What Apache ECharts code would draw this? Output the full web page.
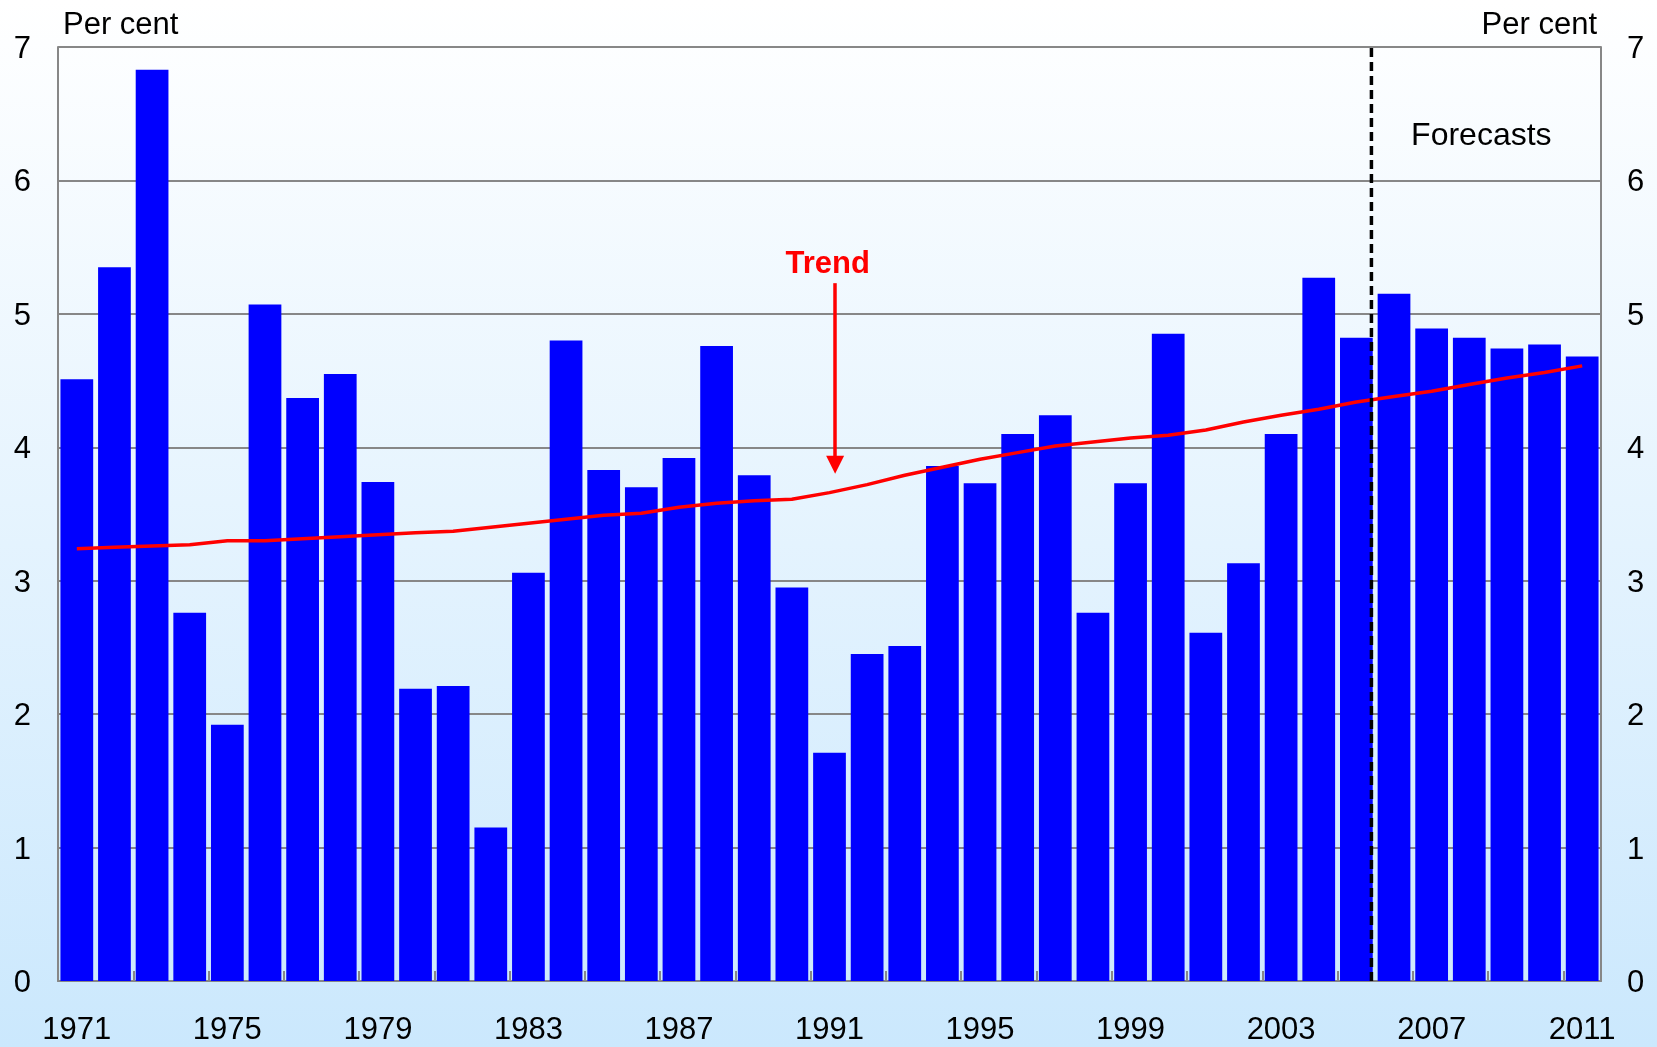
<!DOCTYPE html>
<html>
<head>
<meta charset="utf-8">
<style>
html,body{margin:0;padding:0;width:1657px;height:1047px;overflow:hidden;}
#c{width:1657px;height:1047px;}
</style>
<script src="https://cdn.jsdelivr.net/npm/echarts@6/dist/echarts.min.js"></script>
</head>
<body>
<div id="c"></div>
<script>
const years = ['1971','1972','1973','1974','1975','1976','1977','1978','1979','1980',
  '1981','1982','1983','1984','1985','1986','1987','1988','1989','1990',
  '1991','1992','1993','1994','1995','1996','1997','1998','1999','2000',
  '2001','2002','2003','2004','2005','2006','2007','2008','2009','2010','2011'];
const growth = [4.51,5.35,6.83,2.76,1.92,5.07,4.37,4.55,3.74,2.19,
  2.21,1.15,3.06,4.80,3.83,3.70,3.92,4.76,3.79,2.95,
  1.71,2.45,2.51,3.86,3.73,4.10,4.24,2.76,3.73,4.85,
  2.61,3.13,4.10,5.27,4.82,5.15,4.89,4.82,4.74,4.77,4.68];
const trend = [3.24,3.25,3.26,3.27,3.30,3.30,3.315,3.33,3.345,3.36,
  3.37,3.40,3.43,3.46,3.49,3.505,3.55,3.58,3.60,3.61,
  3.66,3.72,3.79,3.85,3.91,3.96,4.01,4.04,4.07,4.09,
  4.13,4.19,4.24,4.285,4.34,4.38,4.42,4.47,4.52,4.56,4.61];
const firstForecastYear = '2006';
const yMin = 0, yMax = 7, yStep = 1;
const unitLabel = 'Per cent';
const trendLabel = 'Trend';
const forecastLabel = 'Forecasts';

const FONT = "'Liberation Sans', Arial, sans-serif";
const GRAY = '#878787';
const fcIdx = years.indexOf(firstForecastYear);

const chart = echarts.init(document.getElementById('c'), null, {renderer: 'canvas'});
const option = {
  animation: false,
  backgroundColor: new echarts.graphic.LinearGradient(0, 0, 0, 1, [
    {offset: 0, color: '#ffffff'},
    {offset: 1, color: '#cbe8fd'}
  ]),
  grid: {left: 58, right: 56, top: 47, bottom: 66, containLabel: false},
  xAxis: [
    {
      type: 'category', data: years, boundaryGap: true,
      axisLine: {show: true, lineStyle: {color: GRAY, width: 2}},
      axisTick: {show: true, inside: true, length: 10, interval: 1, lineStyle: {color: GRAY, width: 2}},
      axisLabel: {interval: 3, margin: 34, color: '#000', fontSize: 31, fontFamily: FONT},
      splitLine: {show: false}
    },
    {type: 'value', min: 0, max: years.length, show: false}
  ],
  yAxis: [
    {
      type: 'value', min: yMin, max: yMax, interval: yStep, position: 'left',
      name: unitLabel, nameLocation: 'end', nameGap: 6,
      nameTextStyle: {align: 'left', padding: [0, 0, 0, 5], fontSize: 31, color: '#000', fontFamily: FONT},
      axisLine: {show: true, lineStyle: {color: GRAY, width: 2}},
      axisTick: {show: false},
      axisLabel: {margin: 27, color: '#000', fontSize: 31, fontFamily: FONT, verticalAlign: 'top', lineHeight: 5},
      splitLine: {show: true, lineStyle: {color: GRAY, width: 2}}
    },
    {
      type: 'value', min: yMin, max: yMax, interval: yStep, position: 'right',
      name: unitLabel, nameLocation: 'end', nameGap: 6,
      nameTextStyle: {align: 'right', padding: [0, 4, 0, 0], fontSize: 31, color: '#000', fontFamily: FONT},
      axisLine: {show: true, lineStyle: {color: GRAY, width: 2}},
      axisTick: {show: false},
      axisLabel: {margin: 26, color: '#000', fontSize: 31, fontFamily: FONT, verticalAlign: 'top', lineHeight: 5},
      splitLine: {show: false}
    }
  ],
  series: [
    {
      type: 'bar', data: growth, barCategoryGap: '13%',
      itemStyle: {color: '#0000ff'}, z: 2
    },
    {
      type: 'line', data: trend, symbol: 'none',
      lineStyle: {color: '#ff0000', width: 3.5}, itemStyle: {color: '#ff0000'}, z: 3
    },
    {
      type: 'line', xAxisIndex: 1, yAxisIndex: 0,
      data: [[fcIdx - 0.1, yMin], [fcIdx - 0.1, yMax]], symbol: 'none',
      lineStyle: {color: '#000', width: 3.5, type: [9, 5]}, z: 4
    },
    {
      type: 'scatter', xAxisIndex: 1, yAxisIndex: 0, symbolSize: 0,
      itemStyle: {opacity: 1},
      data: [[20.45, 5.373]],
      label: {show: true, position: 'inside', formatter: trendLabel, color: '#ff0000',
        fontSize: 31, fontWeight: 'bold', fontFamily: FONT},
      markLine: {
        silent: true, symbol: ['none', 'triangle'], symbolSize: [18, 18],
        lineStyle: {color: '#ff0000', width: 3.5, type: 'solid', opacity: 1},
        label: {show: false},
        data: [[{coord: [20.65, 5.23]}, {coord: [20.65, 3.87]}]]
      },
      z: 5
    },
    {
      type: 'scatter', xAxisIndex: 1, yAxisIndex: 0, symbolSize: 0,
      itemStyle: {opacity: 1},
      data: [[37.82, 6.335]],
      label: {show: true, position: 'inside', formatter: forecastLabel, color: '#000',
        fontSize: 32, fontFamily: FONT},
      z: 5
    }
  ]
};
chart.setOption(option);
</script>
</body>
</html>
